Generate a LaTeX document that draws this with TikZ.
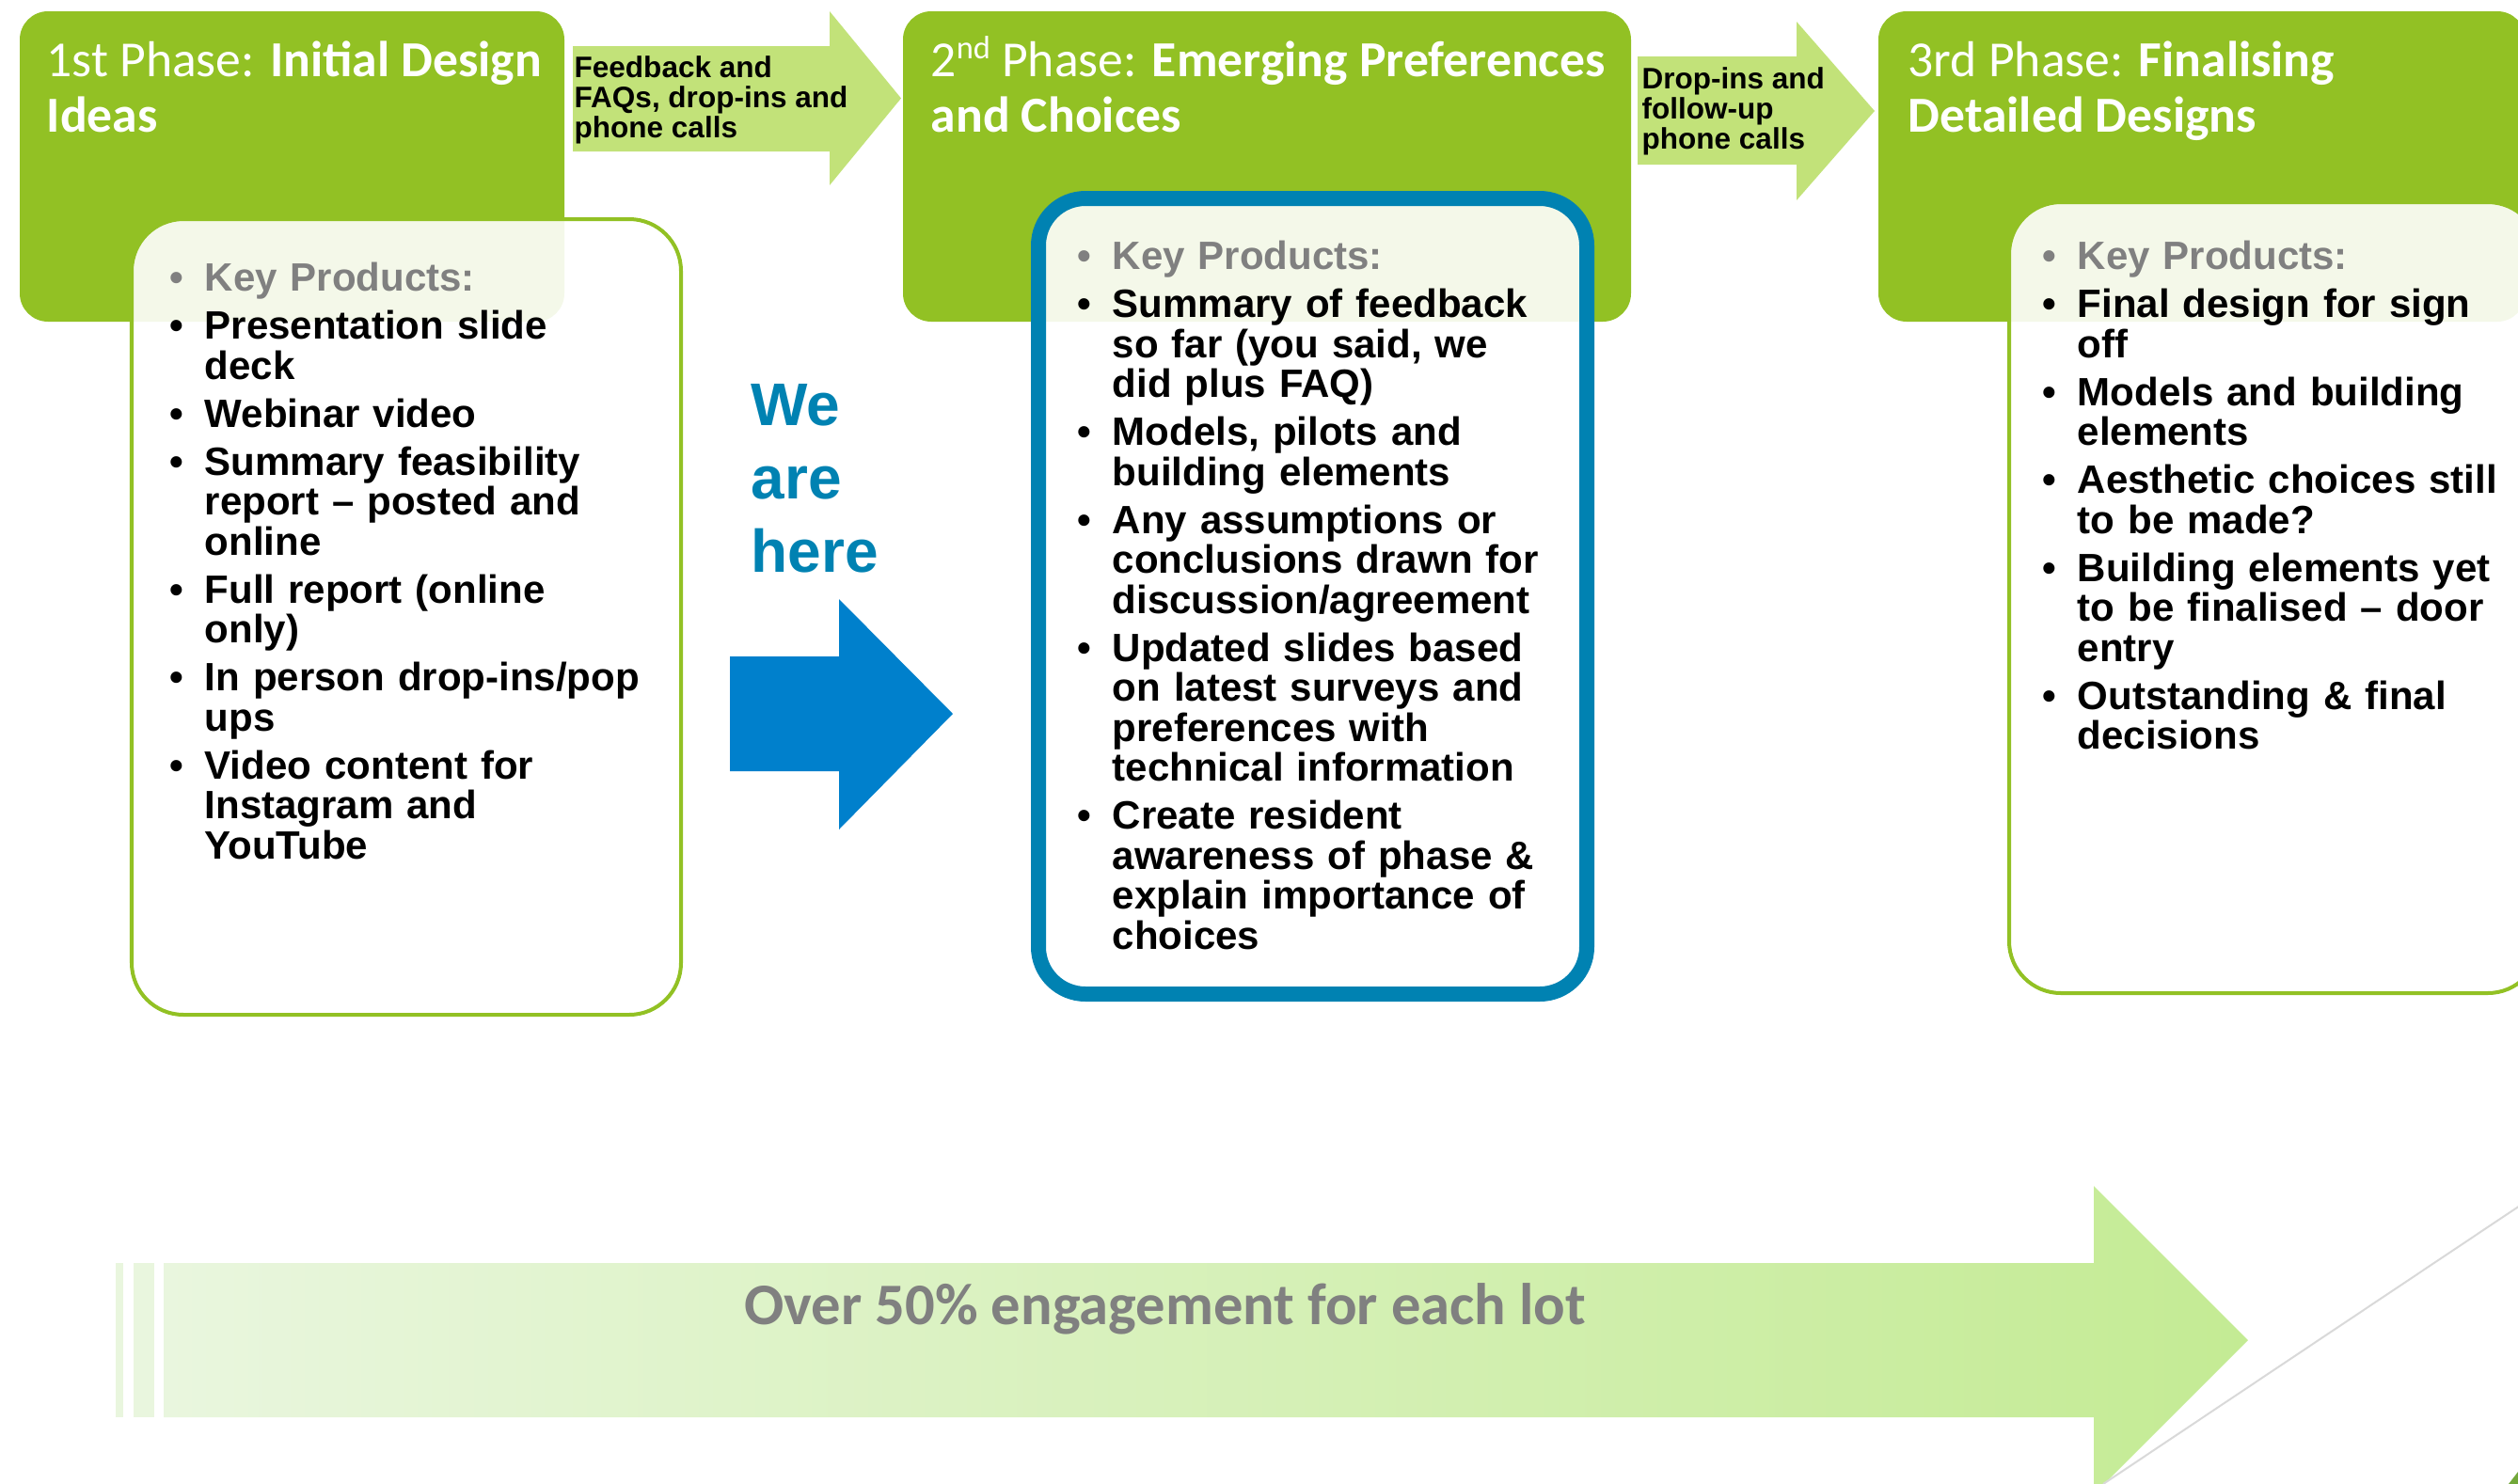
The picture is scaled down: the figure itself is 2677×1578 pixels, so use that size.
\documentclass[tikz,border=0pt]{standalone}
\usepackage{fontspec}
\setmainfont{Liberation Sans}
\newfontfamily\carl{Carlito}
\usetikzlibrary{calc}

\definecolor{headgreen}{RGB}{146,193,36}
\definecolor{chevgreen}{RGB}{194,226,121}
\definecolor{nowblue}{RGB}{0,130,178}
\definecolor{pointblue}{RGB}{0,128,204}
\definecolor{keygrey}{RGB}{128,128,128}
\definecolor{bandleft}{RGB}{233,246,222}
\definecolor{bandright}{RGB}{196,235,148}
\definecolor{hairgrey}{RGB}{217,217,217}
\definecolor{cornergreen}{RGB}{114,168,58}

% one bulleted entry of a product list; lines inside it are broken with \newline
\newcommand\kpitem[2][black]{\par\hangindent=0.37cm\hangafter=1\noindent
  \makebox[0.37cm][l]{\textcolor{#1}{\textbullet}}#2}
\newcommand\kphead{\kpitem[keygrey]{\textcolor{keygrey}{Key Products:}}}

\begin{document}
\begin{tikzpicture}[x=0.01cm,y=-0.01cm,
  phasehead/.style={fill=headgreen, rounded corners=0.3cm},
  chevron/.style={fill=chevgreen},
  productbox/.style={fill=white, fill opacity=0.9, rounded corners=0.55cm},
  phasetitle/.style={anchor=base west, inner sep=0pt, text=white, align=left,
    font=\carl\fontsize{15.25pt}{16.5pt}\selectfont},
  chevtext/.style={anchor=base west, inner sep=0pt, align=left,
    font=\bfseries\fontsize{8.96pt}{9.1pt}\selectfont},
  itemlist/.style={anchor=base west, inner sep=0pt, text width=5.3cm, align=left,
    font=\bfseries\fontsize{11.95pt}{12.09pt}\selectfont},
  ]
\useasboundingbox (0,0) rectangle (2677,1578);
\clip (0,0) rectangle (2677,1578);

% phase header panels
\path[phasehead] (21,12) rectangle (600,342);
\path[phasehead] (960,12) rectangle (1734,342);
\path[phasehead] (1997,12) rectangle (2685,342);

% hand-over chevrons between phases
\path[chevron] (609,49) -- (882,49) -- (882,12) -- (958,104.5) -- (882,197)
  -- (882,161) -- (609,161) -- cycle;
\path[chevron] (1741,60) -- (1910,60) -- (1910,23) -- (1993,118) -- (1910,213)
  -- (1910,175) -- (1741,175) -- cycle;

% product panels
\path[productbox] (140,233) rectangle (724,1079);
\draw[headgreen, line width=1.14pt, rounded corners=0.55cm] (140,233) rectangle (724,1079);
\path[productbox] (1104,211) rectangle (1687,1057);
\draw[nowblue, line width=4.55pt, rounded corners=0.5cm] (1104,211) rectangle (1687,1057);
\path[productbox] (2136,215) rectangle (2700,1056);
\draw[headgreen, line width=1.14pt, rounded corners=0.55cm] (2136,215) rectangle (2700,1056);

% header titles (anchored on the baseline of their last line)
\node[phasetitle] (t1) at (49,140) {1st Phase: \textbf{Initial Design}\\\textbf{Ideas}};
\node[phasetitle] (t2) at (989,140) {2\raisebox{0.36em}{\fontsize{9.8pt}{9.8pt}\selectfont nd} Phase: \textbf{Emerging Preferences}\\\textbf{and Choices}};
\node[phasetitle] (t3) at (2028,140) {3rd Phase: \textbf{Finalising}\\\textbf{Detailed Designs}};

% chevron captions
\node[chevtext] (c1) at (610,146) {Feedback and\\FAQs, drop-ins and\\phone calls};
\node[chevtext] (c2) at (1745,158) {Drop-ins and\\follow-up\\phone calls};

% product lists
\node[itemlist] (p1) at (180,258.5) {\setlength{\parskip}{2.42pt}%
  \kphead
  \kpitem{Presentation slide\newline deck}
  \kpitem{Webinar video}
  \kpitem{Summary feasibility\newline report -- posted and\newline online}
  \kpitem{Full report (online\newline only)}
  \kpitem{In person drop-ins/pop\newline ups}
  \kpitem{Video content for\newline Instagram and\newline YouTube}\par};

\node[itemlist] (p2) at (1145,235.5) {\setlength{\parskip}{2.42pt}%
  \kphead
  \kpitem{Summary of feedback\newline so far (you said, we\newline did plus FAQ)}
  \kpitem{Models, pilots and\newline building elements}
  \kpitem{Any assumptions or\newline conclusions drawn for\newline discussion/agreement}
  \kpitem{Updated slides based\newline on latest surveys and\newline preferences with\newline technical information}
  \kpitem{Create resident\newline awareness of phase \&\newline explain importance of\newline choices}\par};

\node[itemlist] (p3) at (2171,235.5) {\setlength{\parskip}{2.42pt}%
  \kphead
  \kpitem{Final design for sign\newline off}
  \kpitem{Models and building\newline elements}
  \kpitem{Aesthetic choices still\newline to be made?}
  \kpitem{Building elements yet\newline to be finalised -- door\newline entry}
  \kpitem{Outstanding \& final\newline decisions}\par};

% current position marker
\node[anchor=base west, inner sep=0pt, align=left, text=nowblue,
  font=\bfseries\fontsize{18.2pt}{22.05pt}\selectfont] (here) at (798,608) {We\\are\\here};
\path[fill=pointblue] (776,698) -- (892,698) -- (892,637) -- (1013,759) -- (892,882)
  -- (892,820) -- (776,820) -- cycle;

% engagement band
\fill[bandleft] (123,1343) rectangle (131,1507);
\fill[bandleft] (142,1343) rectangle (164,1507);
\shade[left color=bandleft, right color=bandright]
  (174,1343) -- (2226,1343) -- (2226,1261) -- (2390,1425) -- (2226,1589)
  -- (2226,1507) -- (174,1507) -- cycle;
\node[anchor=base, inner sep=0pt, text=keygrey,
  font=\carl\bfseries\fontsize{17.8pt}{20pt}\selectfont] (band) at (1239,1408)
  {Over 50\% engagement for each lot};

% slide corner trim
\draw[hairgrey, line width=0.57pt] (2236,1578) -- (2700,1268);
\fill[cornergreen] (2667,1578) -- (2677,1565) -- (2677,1578) -- cycle;
\end{tikzpicture}
\end{document}
